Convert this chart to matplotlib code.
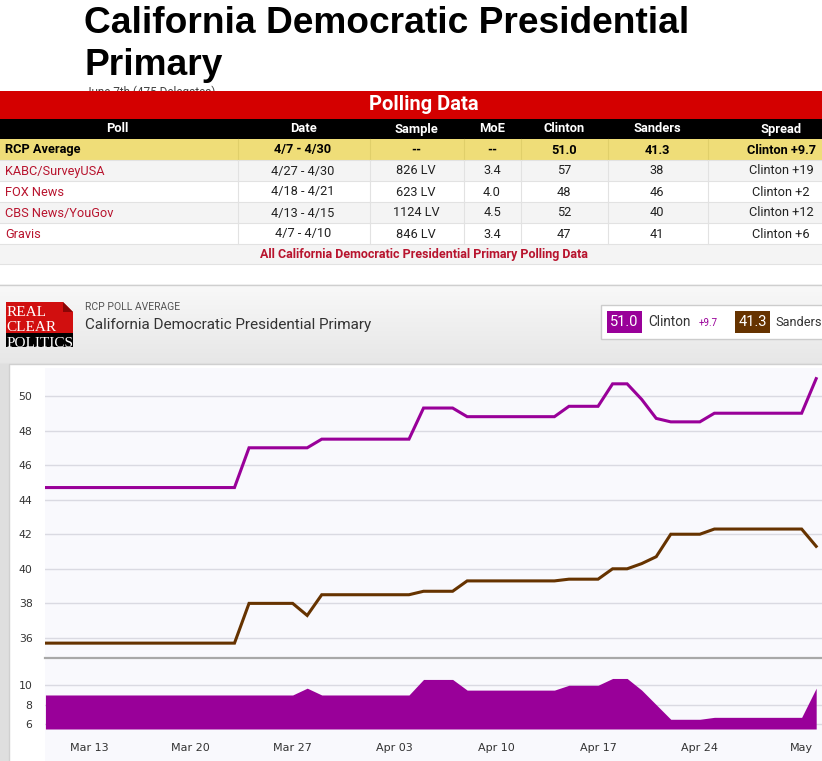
import numpy as np
import pandas as pd
import matplotlib
matplotlib.use("Agg")
import matplotlib.pyplot as plt
import matplotlib.dates as mdates
from matplotlib.patches import Rectangle, Polygon
from matplotlib import font_manager as fm

# ---------------- data ----------------
dates = pd.date_range("2016-03-10", "2016-05-02", freq="D")
clinton = [44.7, 44.7, 44.7, 44.7, 44.7, 44.7, 44.7, 44.7, 44.7, 44.7, 44.7, 44.7, 44.7, 44.7,
           47.0, 47.0, 47.0, 47.0, 47.0,
           47.5, 47.5, 47.5, 47.5, 47.5, 47.5, 47.5,
           49.3, 49.3, 49.3,
           48.8, 48.8, 48.8, 48.8, 48.8, 48.8, 48.8,
           49.4, 49.4, 49.4,
           50.7, 50.7,
           49.8, 48.7,
           48.5, 48.5, 48.5,
           49.0, 49.0, 49.0, 49.0, 49.0, 49.0, 49.0,
           51.0]
sanders = [35.7, 35.7, 35.7, 35.7, 35.7, 35.7, 35.7, 35.7, 35.7, 35.7, 35.7, 35.7, 35.7, 35.7,
           38.0, 38.0, 38.0, 38.0,
           37.3,
           38.5, 38.5, 38.5, 38.5, 38.5, 38.5, 38.5,
           38.7, 38.7, 38.7,
           39.3, 39.3, 39.3, 39.3, 39.3, 39.3, 39.3,
           39.4, 39.4, 39.4,
           40.0, 40.0,
           40.3, 40.7,
           42.0, 42.0, 42.0,
           42.3, 42.3, 42.3, 42.3, 42.3, 42.3, 42.3,
           41.3]
spread = [9.0, 9.0, 9.0, 9.0, 9.0, 9.0, 9.0, 9.0, 9.0, 9.0, 9.0, 9.0, 9.0, 9.0, 9.0, 9.0, 9.0, 9.0,
          9.7,
          9.0, 9.0, 9.0, 9.0, 9.0, 9.0, 9.0,
          10.6, 10.6, 10.6,
          9.5, 9.5, 9.5, 9.5, 9.5, 9.5, 9.5,
          10.0, 10.0, 10.0,
          10.7, 10.7,
          9.5, 8.0,
          6.5, 6.5, 6.5,
          6.7, 6.7, 6.7, 6.7, 6.7, 6.7, 6.7,
          9.7]

main_yticks = [36, 38, 40, 42, 44, 46, 48, 50]
spread_yticks = [6, 8, 10]
xtick_dates = ["2016-03-13", "2016-03-20", "2016-03-27", "2016-04-03",
               "2016-04-10", "2016-04-17", "2016-04-24", "2016-05-01"]
xtick_labels = ["Mar 13", "Mar 20", "Mar 27", "Apr 03", "Apr 10", "Apr 17", "Apr 24", "May"]

table_header = ["Poll", "Date", "Sample", "MoE", "Clinton", "Sanders", "Spread"]
table_rows = [
    ["RCP Average", "4/7 - 4/30", "--", "--", "51.0", "41.3", "Clinton +9.7"],
    ["KABC/SurveyUSA", "4/27 - 4/30", "826 LV", "3.4", "57", "38", "Clinton +19"],
    ["FOX News", "4/18 - 4/21", "623 LV", "4.0", "48", "46", "Clinton +2"],
    ["CBS News/YouGov", "4/13 - 4/15", "1124 LV", "4.5", "52", "40", "Clinton +12"],
    ["Gravis", "4/7 - 4/10", "846 LV", "3.4", "47", "41", "Clinton +6"],
]
title_lines = ["California Democratic Presidential", "Primary"]
subtitle = "June 7th (475 Delegates)"
chart_title = "California Democratic Presidential Primary"
logo_text = "REAL\nCLEAR\nPOLITICS"
clinton_last, sanders_last, lead = "51.0", "41.3", "+9.7"

# ---------------- styling ----------------
C_PURPLE = "#990099"
C_BROWN = "#663300"
C_RED = "#d40000"
C_LINK = "#b8142e"


def has_font(name):
    try:
        fm.findfont(fm.FontProperties(family=name), fallback_to_default=False)
        return True
    except Exception:
        return False


COND = next((f for f in ["Liberation Sans Narrow", "DejaVu Sans Condensed", "Roboto"] if has_font(f)),
            "DejaVu Sans")
ARIAL = "Liberation Sans"
SERIF = "Liberation Serif"

W, H = 822, 761
fig = plt.figure(figsize=(W / 100, H / 100), dpi=100)
fig.patch.set_facecolor("white")

bg = fig.add_axes([0, 0, 1, 1], zorder=0)
bg.set_xlim(0, W)
bg.set_ylim(H, 0)
bg.axis("off")


def rect(x0, y0, x1, y1, fc, ec="none", lw=0, z=1):
    bg.add_patch(Rectangle((x0, y0), x1 - x0, y1 - y0, facecolor=fc, edgecolor=ec, linewidth=lw, zorder=z))


# title
bg.text(84, 33, title_lines[0], fontsize=26.7, fontweight="bold", family=ARIAL, va="baseline", ha="left", zorder=5)
bg.text(84, 75, title_lines[1], fontsize=26.7, fontweight="bold", family=ARIAL, va="baseline", ha="left", zorder=5)
bg.text(85, 86, subtitle, fontsize=8.5, family=COND, color="#444444", va="top", ha="left", zorder=2)

# red polling data bar
rect(0, 91, W, 118.5, C_RED, z=3)
bg.text(424, 104.5, "Polling Data", fontsize=14.5, fontweight="bold", family=COND, color="white",
        ha="center", va="center", zorder=4)

# table
col_bounds = [0, 238, 370, 464, 521, 608, 708, 855]
col_centers = [117, 303, 416, 492, 564, 657, 781]
rect(0, 118.5, W, 139, "black", z=3)
for j, h in enumerate(table_header):
    bg.text(col_centers[j], 129, h, fontsize=9.3, fontweight="bold", family=COND, color="white",
            ha="center", va="center", zorder=4)
row_h = 21
row_fc = ["#efdd78", "#f4f4f4", "#ffffff", "#f4f4f4", "#ffffff"]
for i, row in enumerate(table_rows):
    y0 = 139 + i * row_h
    rect(0, y0, W, y0 + row_h, row_fc[i], z=2)
    bg.plot([0, W], [y0 + row_h, y0 + row_h], color="#e2e2e2", lw=0.8, zorder=3)
    for b in col_bounds[1:-1]:
        bg.plot([b, b], [y0, y0 + row_h], color="#e2e2e2" if i else "#e0cf6a", lw=0.8, zorder=3)
    yc = y0 + row_h / 2 + 0.5
    bold = "bold" if i == 0 else "normal"
    for j, val in enumerate(row):
        if j == 0:
            bg.text(5, yc, val, fontsize=9.2, fontweight=bold, family=COND,
                    color="black" if i == 0 else C_LINK, ha="left", va="center", zorder=4)
        else:
            bg.text(col_centers[j], yc, val, fontsize=9.2, fontweight=bold, family=COND,
                    color="black" if i == 0 else "#222222", ha="center", va="center", zorder=4)
y_link = 139 + len(table_rows) * row_h
rect(0, y_link, W, y_link + 20, "#f4f4f4", z=2)
bg.plot([0, W], [y_link + 20, y_link + 20], color="#e2e2e2", lw=0.8, zorder=3)
bg.text(424, y_link + 10.5, "All " + chart_title + " Polling Data", fontsize=9, fontweight="bold",
        family=COND, color=C_LINK, ha="center", va="center", zorder=4)

# chart panel background gradient
g = np.concatenate([np.linspace(0.975, 0.905, 80), np.full(400, 0.875)])
grad = np.dstack([g, g, g]).reshape(-1, 1, 3)
bg.imshow(grad, extent=(0, W, H, 284), aspect="auto", zorder=1, interpolation="bilinear")
bg.plot([0, W], [284.5, 284.5], color="#cfcfcf", lw=1, zorder=2)

# logo
bg.add_patch(Polygon([(6, 302), (63, 302), (73, 312), (73, 333), (6, 333)], closed=True,
                     facecolor="#d10f0f", edgecolor="none", zorder=3))
bg.add_patch(Polygon([(63, 302), (63, 312), (73, 312)], closed=True, facecolor="#8a0606",
                     edgecolor="none", zorder=3))
rect(6, 333, 73, 347, "black", z=3)
bg.text(6.5, 305.5, logo_text, fontsize=11, family=SERIF, color="white", ha="left", va="top",
        linespacing=1.28, zorder=4)

bg.text(85, 307, "RCP POLL AVERAGE", fontsize=7.5, family=COND, color="#555555", ha="left", va="center", zorder=4)
bg.text(85, 325, chart_title, fontsize=11, family=COND, color="#333333", ha="left", va="center", zorder=4)

# legend box
rect(601, 305, W + 20, 339, "white", ec="#cccccc", lw=1, z=3)
rect(607, 311, 642, 333, C_PURPLE, z=4)
bg.text(624.5, 322.5, clinton_last, fontsize=10.5, family=COND, color="white", ha="center", va="center", zorder=5)
bg.text(648, 322.5, "Clinton", fontsize=9.8, family=COND, color="#333333", ha="left", va="center", zorder=5)
bg.text(699, 323.5, lead, fontsize=7, family=COND, color=C_PURPLE, ha="left", va="center", zorder=5)
rect(735, 311, 770, 333, C_BROWN, z=4)
bg.text(752.5, 322.5, sanders_last, fontsize=10.5, family=COND, color="white", ha="center", va="center", zorder=5)
bg.text(775, 322.5, "Sanders", fontsize=9.2, family=COND, color="#333333", ha="left", va="center", zorder=5)

# chart area
rect(9, 363.5, W + 10, H + 10, "white", ec="#d0d0d0", lw=1, z=2)
rect(45, 368, W, H, "#f9f9fd", z=3)

# ---------------- main chart ----------------
x0 = 45


def fax(top, bottom):
    return [x0 / W, (H - bottom) / H, (W - x0) / W, (bottom - top) / H]


ax = fig.add_axes(fax(370, 658), zorder=2)
ax.set_facecolor("none")
ax.plot(dates, clinton, color=C_PURPLE, lw=2.2, solid_joinstyle="miter", zorder=3)
ax.plot(dates, sanders, color=C_BROWN, lw=2.2, solid_joinstyle="miter", zorder=3)
xl = (mdates.date2num(dates[0]) - 0.03, mdates.date2num(dates[0]) + 53.4)
ax.set_xlim(xl)
ax.set_ylim(34.84, 51.5)
ax.set_yticks(main_yticks)
ax.set_yticklabels([str(v) for v in main_yticks])
ax.grid(axis="y", color="#dadae2", lw=1.0)
ax.set_axisbelow(True)
ax.tick_params(axis="y", length=0, pad=9, labelsize=7.8, labelcolor="#333333")
ax.tick_params(axis="x", length=0, labelbottom=False)
for s in ["top", "right", "left"]:
    ax.spines[s].set_visible(False)
ax.spines["bottom"].set_color("#a8a8a8")
ax.spines["bottom"].set_linewidth(1.6)

# ---------------- spread chart ----------------
ax2 = fig.add_axes(fax(660, 729), zorder=2)
ax2.set_facecolor("none")
ax2.fill_between(dates, spread, 5.5, color=C_PURPLE, lw=0, zorder=3)
ax2.set_xlim(xl)
ax2.set_ylim(5.5, 12.6)
ax2.set_yticks(spread_yticks)
ax2.set_yticklabels([str(v) for v in spread_yticks])
ax2.grid(axis="y", color="#dadae2", lw=1.0)
ax2.set_axisbelow(True)
ax2.set_xticks(mdates.date2num(pd.to_datetime(xtick_dates)))
ax2.set_xticklabels(xtick_labels)
ax2.tick_params(axis="y", length=0, pad=9, labelsize=7.8, labelcolor="#333333")
ax2.tick_params(axis="x", length=0, pad=10, labelsize=8, labelcolor="#333333")
for s in ["top", "right", "left", "bottom"]:
    ax2.spines[s].set_visible(False)

fig.savefig("out.png", dpi=100)
